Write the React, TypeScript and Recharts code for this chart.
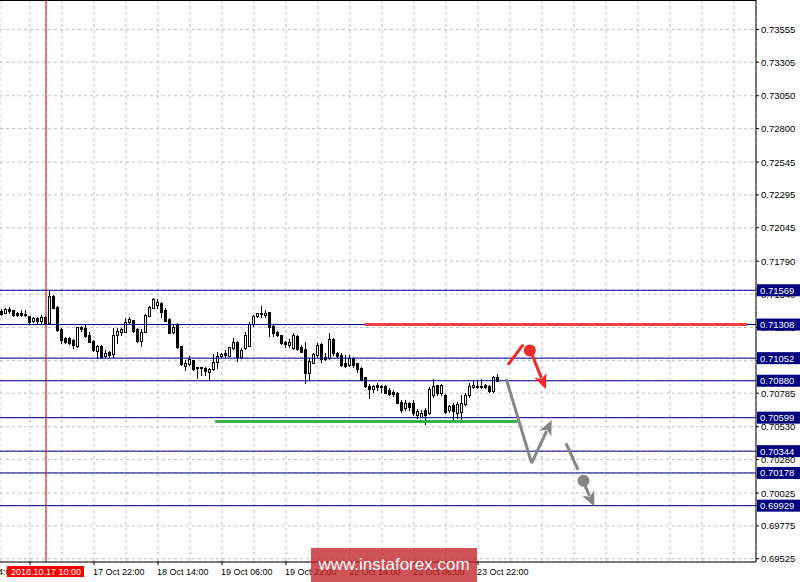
import React from 'react';
import {
  ComposedChart,
  Bar,
  XAxis,
  YAxis,
  CartesianGrid,
  ReferenceLine,
  ReferenceDot,
} from 'recharts';

// H1 candles (index 0 = first bar on the left)
const open = [
  0.71409, 0.71398, 0.71424, 0.71417, 0.71396, 0.71394, 0.71389, 0.71373, 0.71333, 0.7136,
  0.71338, 0.71368, 0.71322, 0.71525, 0.71444, 0.71277, 0.71204, 0.71204, 0.71191, 0.71145,
  0.71287, 0.7128, 0.71229, 0.71186, 0.7111, 0.71145, 0.71067, 0.71097, 0.71084, 0.71229,
  0.7125, 0.71254, 0.71325, 0.71343, 0.71272, 0.71183, 0.71254, 0.71376, 0.71436, 0.71457,
  0.7147, 0.71419, 0.71348, 0.71249, 0.7131, 0.71145, 0.70996, 0.7101, 0.71039, 0.70983,
  0.70986, 0.7098, 0.70945, 0.7097, 0.71025, 0.71067, 0.71088, 0.71071, 0.71128, 0.71178,
  0.71064, 0.71128, 0.71148, 0.7131, 0.71373, 0.71394, 0.71381, 0.71404, 0.71297, 0.71254,
  0.71229, 0.71173, 0.71153, 0.71128, 0.71221, 0.7114, 0.7112, 0.70937, 0.71018, 0.71077,
  0.7116, 0.71044, 0.71052, 0.71196, 0.71094, 0.71077, 0.71013, 0.71001, 0.71052, 0.71013,
  0.70975, 0.70907, 0.70841, 0.70818, 0.70849, 0.70843, 0.70843, 0.7081, 0.70797, 0.7079,
  0.70721, 0.70671, 0.70714, 0.70709, 0.7062, 0.70607, 0.70658, 0.70633, 0.70772, 0.70849,
  0.70785, 0.70772, 0.70658, 0.70696, 0.70633, 0.70645, 0.70704, 0.70772, 0.70833, 0.70833,
  0.70841, 0.70849, 0.70841, 0.70805, 0.70907,
];
const high = [
  0.71429, 0.71434, 0.71439, 0.71419, 0.71406, 0.71417, 0.71419, 0.71375, 0.71363, 0.71368,
  0.71379, 0.71373, 0.71563, 0.7153, 0.71449, 0.71282, 0.71216, 0.71216, 0.71196, 0.71292,
  0.71297, 0.71302, 0.71254, 0.7119, 0.71153, 0.7115, 0.71115, 0.7111, 0.7128, 0.71285,
  0.71282, 0.71356, 0.71363, 0.71346, 0.7128, 0.71272, 0.71386, 0.71452, 0.71508, 0.71503,
  0.71477, 0.71432, 0.71356, 0.7131, 0.71318, 0.71148, 0.71039, 0.71071, 0.71041, 0.70986,
  0.70988, 0.70988, 0.70975, 0.71082, 0.71102, 0.7109, 0.71115, 0.7114, 0.71204, 0.71183,
  0.71128, 0.71249, 0.7133, 0.71381, 0.71399, 0.71449, 0.71419, 0.71406, 0.71305, 0.71262,
  0.71231, 0.71186, 0.71196, 0.71244, 0.71226, 0.71153, 0.71178, 0.71052, 0.71094, 0.7117,
  0.71166, 0.7109, 0.71246, 0.71204, 0.71102, 0.7109, 0.71077, 0.71077, 0.71059, 0.71018,
  0.70983, 0.70912, 0.70856, 0.70849, 0.70862, 0.70849, 0.70846, 0.70823, 0.7081, 0.70797,
  0.70734, 0.70734, 0.70721, 0.70734, 0.70663, 0.70658, 0.70671, 0.70833, 0.70892, 0.70851,
  0.70856, 0.70776, 0.70696, 0.70709, 0.70721, 0.70772, 0.70785, 0.70862, 0.70875, 0.70887,
  0.70892, 0.70856, 0.70849, 0.70917, 0.70933,
];
const low = [
  0.71383, 0.71394, 0.71394, 0.71376, 0.71376, 0.71373, 0.71373, 0.71315, 0.71328, 0.71318,
  0.71322, 0.71318, 0.7132, 0.71434, 0.71262, 0.7117, 0.7117, 0.7116, 0.71128, 0.7114,
  0.71262, 0.71216, 0.71173, 0.7111, 0.71056, 0.71059, 0.71059, 0.71064, 0.71059, 0.71166,
  0.71226, 0.71252, 0.7132, 0.71254, 0.71178, 0.71148, 0.71249, 0.71376, 0.71432, 0.71432,
  0.71363, 0.71335, 0.71244, 0.71244, 0.71132, 0.71001, 0.70963, 0.71001, 0.70963, 0.70899,
  0.70925, 0.70925, 0.70887, 0.70964, 0.70975, 0.71059, 0.71064, 0.71069, 0.71123, 0.71031,
  0.71056, 0.71123, 0.71145, 0.71297, 0.71368, 0.71363, 0.71363, 0.71221, 0.71221, 0.71221,
  0.7116, 0.7114, 0.7114, 0.7112, 0.71115, 0.71097, 0.70866, 0.70887, 0.71013, 0.71064,
  0.71025, 0.71036, 0.71044, 0.71077, 0.71064, 0.70993, 0.70988, 0.70996, 0.70988, 0.7095,
  0.70885, 0.70831, 0.70747, 0.70797, 0.7081, 0.70797, 0.70785, 0.70772, 0.70765, 0.70709,
  0.70645, 0.70658, 0.70658, 0.7062, 0.70595, 0.70602, 0.70551, 0.7063, 0.70759, 0.70772,
  0.70772, 0.70638, 0.70645, 0.70582, 0.70595, 0.70582, 0.70696, 0.70759, 0.70823, 0.70823,
  0.70823, 0.70823, 0.70797, 0.70797, 0.7088,
];
const close = [
  0.71389, 0.71429, 0.71414, 0.71379, 0.71383, 0.71383, 0.71379, 0.71328, 0.71358, 0.71333,
  0.71363, 0.71322, 0.71525, 0.71436, 0.71267, 0.71191, 0.71178, 0.71166, 0.71153, 0.71287,
  0.71272, 0.71221, 0.71178, 0.71115, 0.71148, 0.71064, 0.71092, 0.71079, 0.71229, 0.71262,
  0.71277, 0.71325, 0.71348, 0.71259, 0.71183, 0.71254, 0.71381, 0.71444, 0.715, 0.71482,
  0.71406, 0.71335, 0.71247, 0.71292, 0.71138, 0.71006, 0.71018, 0.71046, 0.7097, 0.70975,
  0.70978, 0.70955, 0.7097, 0.71025, 0.71071, 0.71084, 0.71075, 0.71135, 0.71178, 0.71064,
  0.71115, 0.71229, 0.7131, 0.71373, 0.71394, 0.71389, 0.71399, 0.71292, 0.71244, 0.71231,
  0.71166, 0.7116, 0.71178, 0.71229, 0.7112, 0.71102, 0.70937, 0.71034, 0.71084, 0.71153,
  0.71044, 0.71064, 0.71196, 0.7109, 0.71069, 0.71001, 0.70993, 0.71052, 0.71001, 0.70968,
  0.70887, 0.70841, 0.70818, 0.70841, 0.70833, 0.70831, 0.7079, 0.7078, 0.7078, 0.70714,
  0.70658, 0.70709, 0.70683, 0.70633, 0.70653, 0.70638, 0.7062, 0.70818, 0.70841, 0.70785,
  0.70849, 0.70645, 0.70688, 0.70653, 0.70704, 0.70714, 0.70772, 0.70841, 0.70849, 0.70841,
  0.70833, 0.70833, 0.70805, 0.70912, 0.7088,
];

// bar slots on the time axis (empty ones on the right are the chart shift)
const slotCount = 189;
const gridSlots = [7, 15, 23, 31, 39, 47, 55, 63, 71, 79, 87, 95, 103, 111, 119, 127, 135, 143, 151, 159, 167, 175, 183];
const timeLabels: Record<number, string> = {
  7: '17 Oct 06:00',
  23: '17 Oct 22:00',
  39: '18 Oct 14:00',
  55: '19 Oct 06:00',
  71: '19 Oct 22:00',
  87: '22 Oct 14:00',
  103: '23 Oct 06:00',
  119: '23 Oct 22:00',
};
const prevLabel = '16 Oct 14:00';
const markerSlot = 11;
const markerLabel = '2018.10.17 10:00';

const priceTicks = [
  0.73555, 0.73305, 0.7305, 0.728, 0.72545, 0.72295, 0.72045, 0.7179, 0.7154, 0.71285,
  0.71035, 0.70785, 0.7053, 0.7028, 0.70025, 0.69775, 0.69525,
];
const levels = [0.71569, 0.71308, 0.71052, 0.7088, 0.70599, 0.70344, 0.70178, 0.69929];
const priceMin = 0.695;
const priceMax = 0.73779;

const resistance = { from: 90.75, to: 185.75, price: 0.71308 };
const support = { from: 53.5, to: 128.75, price: 0.70569 };

const rows = Array.from({ length: slotCount }, (_, i) =>
  i < open.length ? { i, o: open[i], h: high[i], l: low[i], c: close[i] } : { i }
);

const FONT = '"Liberation Sans", Arial, sans-serif';

const Candle = (props: any) => {
  const { x, y, width, height, payload } = props;
  if (!payload || payload.o == null) return <g />;
  const top = Math.min(y, y + height);
  const bot = Math.max(y, y + height);
  const span = payload.h - payload.l;
  const k = span > 0 ? (bot - top) / span : 0;
  const py = (v: number) => top + (payload.h - v) * k;
  const cx = Math.floor(x + width / 2 - 0.5) + 0.5;
  const bull = payload.c >= payload.o;
  const bTop = Math.round(py(Math.max(payload.o, payload.c))) + 0.5;
  let bBot = Math.round(py(Math.min(payload.o, payload.c))) + 0.5;
  if (bBot - bTop < 1) bBot = bTop + 1;
  return (
    <g>
      <line x1={cx} x2={cx} y1={Math.round(top)} y2={Math.round(bot) + 1} stroke="#000" />
      <rect x={cx - 1} y={bTop} width={2} height={bBot - bTop} fill={bull ? '#fff' : '#000'} stroke="#000" />
    </g>
  );
};

const PriceTick = (props: any) => {
  const { x, y, payload } = props;
  const v = payload.value as number;
  if (levels.includes(v)) {
    return (
      <g>
        <rect x={x + 1} y={y - 6} width={44} height={12} fill="#000080" />
        <text x={x + 4} y={y + 3.5} fill="#fff" fontSize={9.5} fontFamily={FONT}>
          {v.toFixed(5)}
        </text>
      </g>
    );
  }
  return (
    <g>
      <line x1={x} x2={x + 3} y1={y} y2={y} stroke="#000" />
      <text x={x + 5} y={y + 3.5} fill="#000" fontSize={9.5} fontFamily={FONT}>
        {v.toFixed(5)}
      </text>
    </g>
  );
};

const TimeTick = (props: any) => {
  const { x, y, payload } = props;
  const v = payload.value as number;
  if (v === markerSlot) {
    return (
      <g>
        <rect x={x - 39} y={y + 4} width={77} height={11} fill="#ff0000" />
        <text x={x} y={y + 13} fill="#fff" fontSize={9} fontFamily={FONT} textAnchor="middle">
          {markerLabel}
        </text>
      </g>
    );
  }
  const label = timeLabels[v];
  if (!label) return <g />;
  return (
    <g>
      <line x1={x} x2={x} y1={y - 1} y2={y + 3} stroke="#000" />
      {v === 7 && (
        <text x={x - 66} y={y + 13} fill="#000" fontSize={9} fontFamily={FONT}>
          {prevLabel}
        </text>
      )}
      <text x={x - 1} y={y + 13} fill="#000" fontSize={9} fontFamily={FONT}>
        {label}
      </text>
    </g>
  );
};

const arrowShape = (color: string, head: boolean) => (p: any) => {
  const { x1, y1, x2, y2 } = p;
  if (!head) {
    return <line x1={x1} y1={y1} x2={x2} y2={y2} stroke={color} strokeWidth={3} />;
  }
  const dx = x2 - x1;
  const dy = y2 - y1;
  const len = Math.hypot(dx, dy) || 1;
  const ux = dx / len;
  const uy = dy / len;
  const bx = x2 - ux * 15;
  const by = y2 - uy * 15;
  const nx = -uy * 6.5;
  const ny = ux * 6.5;
  return (
    <g>
      <line x1={x1} y1={y1} x2={bx + ux * 3} y2={by + uy * 3} stroke={color} strokeWidth={3} />
      <polygon
        points={`${x2},${y2} ${bx + nx},${by + ny} ${bx + ux * 4},${by + uy * 4} ${bx - nx},${by - ny}`}
        fill={color}
      />
    </g>
  );
};

const RED = '#ee2a2a';
const GREY = '#858585';

export default function App() {
  return (
    <div
      style={{
        position: 'absolute',
        left: 0,
        top: 0,
        width: 800,
        height: 582,
        background: '#fff',
        fontFamily: FONT,
        overflow: 'hidden',
      }}
    >
      <ComposedChart width={800} height={582} data={rows} margin={{ top: 0, right: 0, bottom: 0, left: 0 }}>
        <CartesianGrid strokeDasharray="3 3" stroke="#c0c0c0" />
        <XAxis
          dataKey="i"
          type="category"
          ticks={[...gridSlots, markerSlot]}
          interval={0}
          height={20}
          tickSize={0}
          tickMargin={0}
          tickLine={false}
          axisLine={{ stroke: '#000' }}
          tick={TimeTick}
        />
        <XAxis xAxisId="num" type="number" domain={[-0.5, 188.5]} allowDataOverflow hide />
        <YAxis
          orientation="right"
          type="number"
          width={44}
          domain={[priceMin, priceMax]}
          allowDataOverflow
          ticks={[...priceTicks, ...levels]}
          interval={0}
          tickSize={0}
          tickMargin={0}
          tickLine={false}
          axisLine={{ stroke: '#000' }}
          tick={PriceTick}
        />
        <ReferenceLine y={priceMax} stroke="#000" strokeWidth={2} />
        {levels.map(v => (
          <ReferenceLine key={v} y={v} stroke="#000080" strokeWidth={1} />
        ))}
        <ReferenceLine x={markerSlot} stroke="#d40000" strokeWidth={1} />
        <Bar
          dataKey={(d: any) => (d.h == null ? null : [d.l, d.h])}
          shape={Candle}
          isAnimationActive={false}
        />
        <ReferenceLine
          xAxisId="num"
          segment={[
            { x: resistance.from, y: resistance.price },
            { x: resistance.to, y: resistance.price },
          ]}
          stroke="#ef3f44"
          strokeWidth={3}
        />
        <ReferenceLine
          xAxisId="num"
          segment={[
            { x: support.from, y: support.price },
            { x: support.to, y: support.price },
          ]}
          stroke="#3cb04a"
          strokeWidth={3}
        />
        <ReferenceLine
          xAxisId="num"
          segment={[
            { x: 188.5, y: 0.7088 },
            { x: 188.5, y: priceMin },
          ]}
          stroke="#000"
          strokeWidth={3}
        />
        {/* red scenario */}
        <ReferenceLine
          xAxisId="num"
          segment={[{ x: 126.3, y: 0.71001 }, { x: 130.1, y: 0.71155 }]}
          shape={arrowShape(RED, false)}
        />
        <ReferenceDot xAxisId="num" x={131.75} y={0.7111} r={6} fill={RED} stroke="none" />
        <ReferenceLine
          xAxisId="num"
          segment={[{ x: 132.25, y: 0.71084 }, { x: 135.75, y: 0.70815 }]}
          shape={arrowShape(RED, true)}
        />
        {/* grey scenario */}
        <ReferenceLine
          xAxisId="num"
          segment={[{ x: 125.9, y: 0.70892 }, { x: 132.2, y: 0.70253 }]}
          shape={arrowShape(GREY, false)}
        />
        <ReferenceLine
          xAxisId="num"
          segment={[{ x: 132.2, y: 0.70253 }, { x: 137.2, y: 0.70582 }]}
          shape={arrowShape(GREY, true)}
        />
        <ReferenceLine
          xAxisId="num"
          segment={[{ x: 140.75, y: 0.70404 }, { x: 143.75, y: 0.70201 }]}
          shape={arrowShape(GREY, false)}
        />
        <ReferenceDot xAxisId="num" x={145.1} y={0.70119} r={6} fill={GREY} stroke="none" />
        <ReferenceLine
          xAxisId="num"
          segment={[{ x: 145.5, y: 0.70079 }, { x: 147.8, y: 0.69921 }]}
          shape={arrowShape(GREY, true)}
        />
      </ComposedChart>
      <div
        style={{
          position: 'absolute',
          left: 311,
          top: 548,
          width: 166,
          height: 34,
          background: 'rgba(195,35,40,0.78)',
          color: '#fff',
          fontSize: 17,
          lineHeight: '34px',
          textAlign: 'center',
          fontFamily: FONT,
        }}
      >
        www.instaforex.com
      </div>
    </div>
  );
}
